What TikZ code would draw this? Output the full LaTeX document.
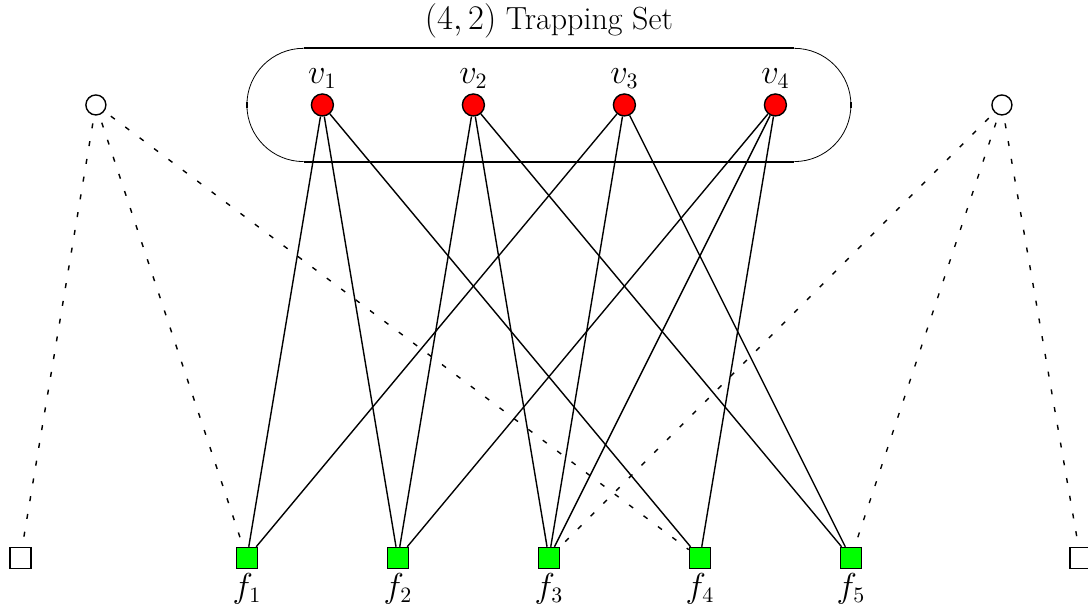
\documentclass[tikz,border=0pt]{standalone}
\begin{document}
\begin{tikzpicture}[x=1.327cm,y=1.327cm,font=\fontsize{16}{19}\selectfont,
	var/.style={circle,draw,line width=0.7pt,fill=red,minimum size=11pt,inner sep=0pt},
	extvar/.style={circle,draw,line width=0.7pt,fill=white,minimum size=10pt,inner sep=0pt},
	chk/.style={rectangle,draw,line width=0.7pt,fill=green,minimum size=10.5pt,inner sep=0pt},
	extchk/.style={rectangle,draw,line width=0.7pt,fill=white,minimum size=10.5pt,inner sep=0pt},
	edge/.style={line width=0.7pt},
	dedge/.style={line width=0.7pt,dash pattern=on 2.5pt off 6.5pt,dash phase=5pt}]
		\useasboundingbox (-7.27,-3.68) rectangle (7.14,4.39);
		% trapping set box
		\draw[line width=1pt] (-3.25,3.75) -- (3.25,3.75);
		\draw[line width=1pt] (-3.25,2.25) -- (3.25,2.25);
		\draw[line width=0.4pt] (-3.25,3.75) arc (90:270:0.75);
		\draw[line width=0.4pt] (3.25,2.25) arc (-90:90:0.75);
		\draw[line width=1pt] (-4,2.96) -- (-4,3.04);
		\draw[line width=1pt] (4,2.96) -- (4,3.04);
		\node (title) at (0,4.12) {$(4,2)$ Trapping Set};
		% variable nodes
		\foreach \i/\x in {1/-3,2/-1,3/1,4/3}{
			\node[var] (v\i) at (\x,3) {};
			\node (lv\i) at (\x,3.35) {$v_\i$};
		}
		\node[extvar] (c1) at (-6,3) {};
		\node[extvar] (c2) at (6,3) {};
		% check nodes
		\foreach \j/\x in {1/-4,2/-2,3/0,4/2,5/4}{
			\node[chk] (f\j) at (\x,-3) {};
			\node (lf\j) at (\x,-3.41) {$f_\j$};
		}
		\node[extchk] (s1) at (-7,-3) {};
		\node[extchk] (s2) at (7.04,-3) {};
		% edges
		\foreach \a/\b in {1/1,1/2,1/4,2/2,2/3,2/5,3/1,3/3,3/5,4/2,4/3,4/4}
		\draw[edge] (v\a) -- (f\b);
		\foreach \a/\b in {c1/s1,c1/f1,c1/f4,c2/f3,c2/f5,c2/s2}
		\draw[dedge] (\a) -- (\b);
\end{tikzpicture}
\end{document}
